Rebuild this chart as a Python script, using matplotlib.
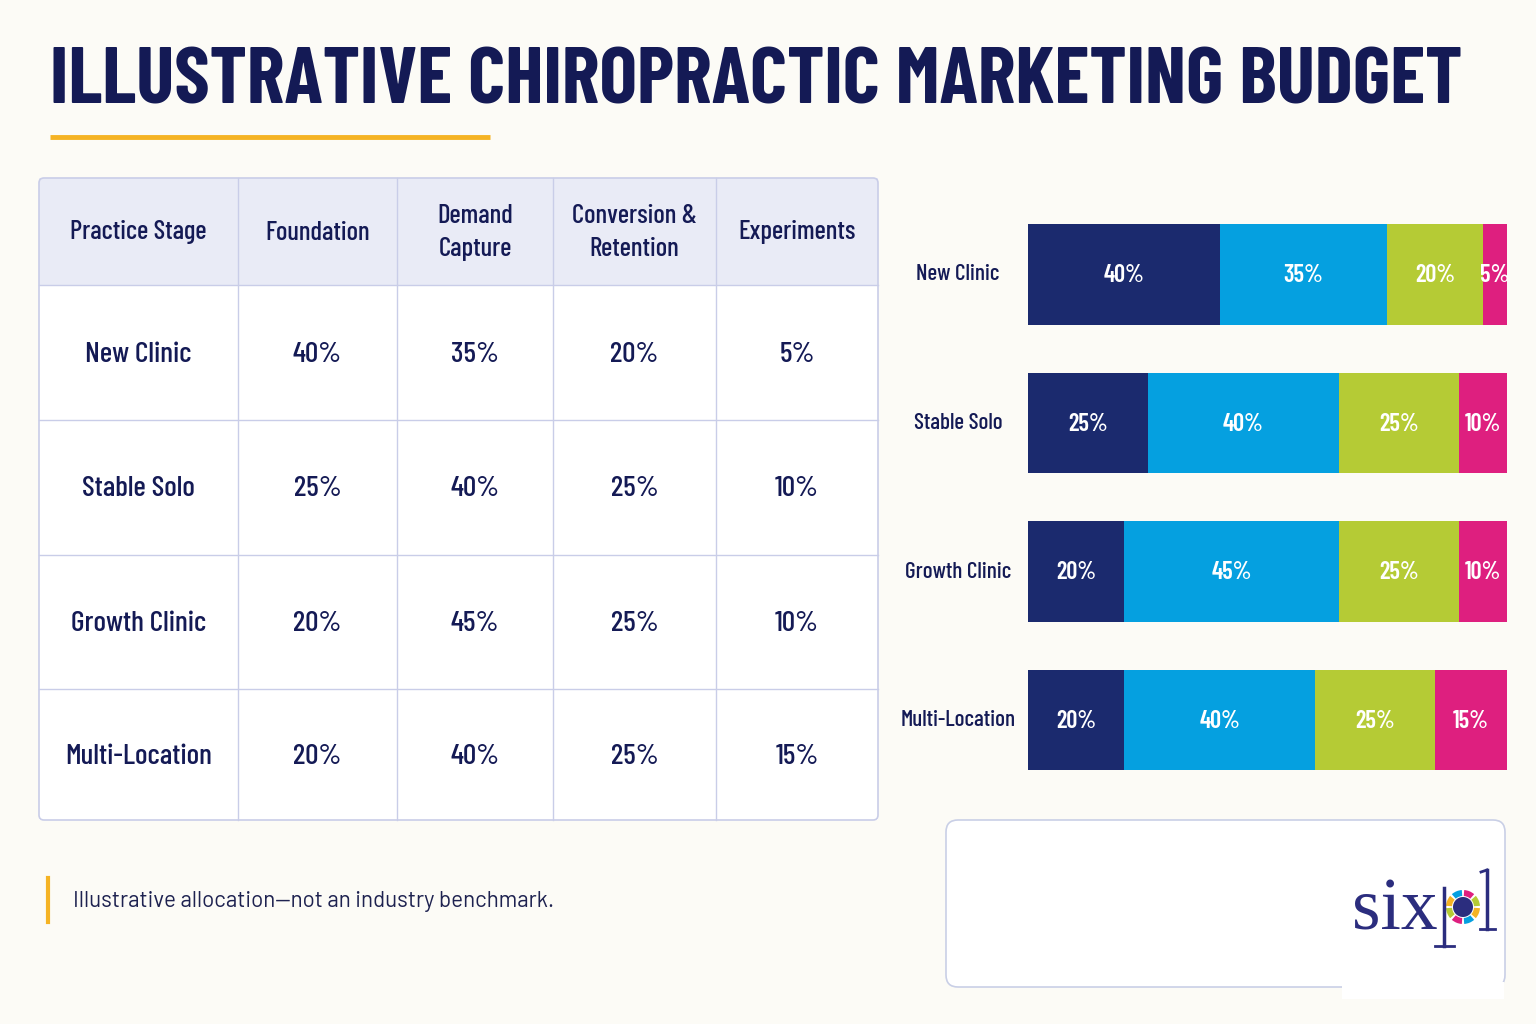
import matplotlib
matplotlib.use("Agg")
import matplotlib.pyplot as plt
from matplotlib.patches import Rectangle, FancyBboxPatch, Wedge, Circle

# data
stages = ['New Clinic', 'Stable Solo', 'Growth Clinic', 'Multi-Location']
columns = ['Practice Stage', 'Foundation', 'Demand\nCapture', 'Conversion &\nRetention', 'Experiments']
foundation = [40, 25, 20, 20]
demand = [35, 40, 45, 40]
conversion = [20, 25, 25, 25]
experiments = [5, 10, 10, 15]
series = [foundation, demand, conversion, experiments]

BG = '#FCFBF6'
NAVY = '#141A55'
GRID = '#C9CDE8'
COLORS = ['#1B2A6E', '#05A0E0', '#B5CB35', '#DE1F7F']
TITLE_FONT = ['Barlow Condensed', 'DejaVu Sans']
COND = ['Barlow Condensed', 'DejaVu Sans']
PLAIN = ['Barlow', 'DejaVu Sans']

fig = plt.figure(figsize=(15.36, 10.24), dpi=100, facecolor=BG)
ax = fig.add_axes([0, 0, 1, 1])
ax.set_xlim(0, 1536)
ax.set_ylim(1024, 0)
ax.axis('off')
renderer = fig.canvas.get_renderer()


def fit_size(text, target_px, **kw):
    # font size that makes one line of text target_px wide
    t = fig.text(0, 0, text, fontsize=20, **kw)
    w = t.get_window_extent(renderer=renderer).width
    t.remove()
    return 20 * target_px / w


# title
ts = fit_size('ILLUSTRATIVE CHIROPRACTIC MARKETING BUDGET', 1412, family=TITLE_FONT, fontweight=700)
ax.text(50, 103, 'ILLUSTRATIVE CHIROPRACTIC MARKETING BUDGET', fontsize=ts, fontweight=700,
        family=TITLE_FONT, color=NAVY, va='baseline', ha='left')
ax.plot([50, 490], [137, 137], color='#F5B324', lw=3.5, solid_capstyle='butt')

# table
col_x = [39, 238, 397, 553, 716, 878]
row_y = [178, 285, 420, 555, 689, 820]
ax.add_patch(Rectangle((col_x[0], row_y[0]), col_x[-1] - col_x[0], row_y[1] - row_y[0],
                       facecolor='#E9EBF6', edgecolor='none', zorder=1))
ax.add_patch(Rectangle((col_x[0], row_y[1]), col_x[-1] - col_x[0], row_y[-1] - row_y[1],
                       facecolor='white', edgecolor='none', zorder=1))
for x in col_x[1:-1]:
    ax.plot([x, x], [row_y[0], row_y[-1]], color=GRID, lw=1, zorder=2)
for y in row_y[1:-1]:
    ax.plot([col_x[0], col_x[-1]], [y, y], color=GRID, lw=1, zorder=2)
ax.add_patch(FancyBboxPatch((col_x[0], row_y[0]), col_x[-1] - col_x[0], row_y[-1] - row_y[0],
                            boxstyle='round,pad=0,rounding_size=5', facecolor='none',
                            edgecolor=GRID, lw=1.2, zorder=3))

hs = fit_size('Practice Stage', 137, family=COND, fontweight=500)
bs = fit_size('Multi-Location', 147, family=COND, fontweight=500)
cx = [(col_x[i] + col_x[i + 1]) / 2 for i in range(5)]
cy = [(row_y[i] + row_y[i + 1]) / 2 for i in range(5)]
for i, c in enumerate(columns):
    ax.text(cx[i], cy[0] + 1, c, fontsize=hs, family=COND, fontweight=500, color=NAVY,
            ha='center', va='center', linespacing=1.45, zorder=4)
for r, s in enumerate(stages):
    ax.text(cx[0], cy[r + 1] + 2, s, fontsize=bs, family=COND, fontweight=500, color=NAVY,
            ha='center', va='center', zorder=4)
    for k, vals in enumerate(series):
        ax.text(cx[k + 1], cy[r + 1] + 2, f'{vals[r]}%', fontsize=bs, family=COND,
                fontweight=500, color=NAVY, ha='center', va='center', zorder=4)

# footnote
ax.plot([48, 48], [878, 922], color='#F5B324', lw=3)
note = 'Illustrative allocation\u2014not an industry benchmark.'
ns = fit_size(note, 482, family=PLAIN)
ax.text(73, 901, note, fontsize=ns, family=PLAIN, color='#1E2250', va='center', ha='left')

# logo box
ax.add_patch(FancyBboxPatch((946, 820), 559, 167, boxstyle='round,pad=0,rounding_size=12',
                            facecolor='white', edgecolor='#C9CFE6', lw=1.2))
ax.add_patch(Rectangle((1342, 982), 162, 17, facecolor='white', edgecolor='none'))
LOGO = '#2B2D7E'
SERIF = ['Liberation Serif', 'DejaVu Serif']
ls = fit_size('six', 86, family=SERIF)
ax.text(1352, 929, 'six', fontsize=ls, family=SERIF, color=LOGO, ha='left', va='baseline')
ax.plot([1444, 1444], [888, 946], color=LOGO, lw=2.5)
ax.plot([1435, 1454], [946, 946], color=LOGO, lw=2)
ring = ['#F5B324', '#05A0E0', '#DE1F7F', '#B5CB35', '#F5B324', '#05A0E0', '#DE1F7F', '#B5CB35']
for i, c in enumerate(ring):
    ax.add_patch(Wedge((1463, 907), 17, i * 45 + 4, i * 45 + 41, width=6, facecolor=c,
                       edgecolor='none'))
ax.add_patch(Circle((1463, 907), 10, facecolor=LOGO, edgecolor='none'))
ax.plot([1487, 1487], [870, 929], color=LOGO, lw=2.5)
ax.plot([1480, 1495], [929, 929], color=LOGO, lw=2)
ax.plot([1481, 1487], [872, 870], color=LOGO, lw=2)

# stacked bars
bx0, bx1 = 1028, 1507
by0, by1 = 200.25, 794.25
bax = fig.add_axes([bx0 / 1536, 1 - by1 / 1024, (bx1 - bx0) / 1536, (by1 - by0) / 1024])
bax.set_xlim(0, 100)
bax.set_ylim(len(stages) - 0.5, -0.5)
bax.axis('off')
vs = fit_size('20%', 40, family=COND, fontweight=600)
ss = fit_size('Multi-Location', 115, family=COND, fontweight=500)
ypos = list(range(len(stages)))
left = [0] * len(stages)
for k, vals in enumerate(series):
    bax.barh(ypos, vals, left=left, height=0.68, color=COLORS[k], edgecolor='none')
    for r, v in enumerate(vals):
        bax.text(left[r] + v / 2, r + 0.01, f'{v}%', color='white', fontsize=vs, family=COND,
                 fontweight=600, ha='center', va='center')
    left = [a + b for a, b in zip(left, vals)]
for r, s in enumerate(stages):
    bax.text(-70 / 479 * 100, r, s, fontsize=ss, family=COND, fontweight=500, color=NAVY,
             ha='center', va='center', clip_on=False)

fig.savefig('out.png', dpi=100, facecolor=BG)
